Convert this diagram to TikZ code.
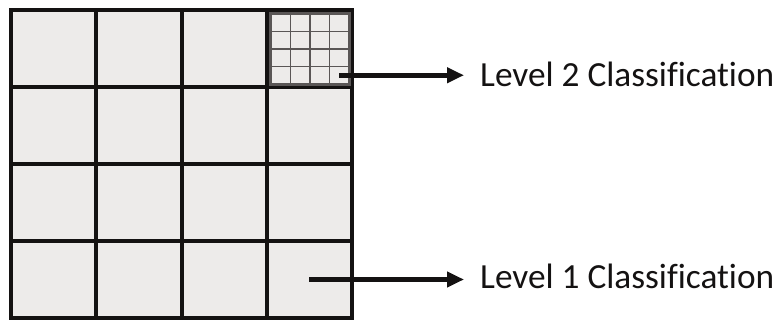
\documentclass[tikz,border=0pt]{standalone}
\usepackage{fontspec}
\setmainfont[Ligatures=NoCommon]{Carlito}
\usetikzlibrary{arrows.meta,calc}
\definecolor{cellgray}{HTML}{EDEBEA}
\definecolor{subline}{HTML}{5A5656}
\definecolor{ink}{HTML}{141212}
\tikzset{
  cell/.style={draw=ink, fill=cellgray, line width=4pt, rectangle,
    minimum width=85.25pt, minimum height=77pt, inner sep=0pt},
  subcell/.style={draw=subline, fill=cellgray, line width=1.6pt, rectangle,
    minimum width=19.5pt, minimum height=17.5pt, inner sep=0pt},
  pointer/.style={draw=ink, line width=5pt,
    -{Triangle[length=17pt,width=15pt]}},
  label/.style={font=\fontsize{35.3}{40}\selectfont, text=ink, inner sep=0pt,
    anchor=base west}
}
\begin{document}
\begin{tikzpicture}[x=1pt,y=-1pt]
  \useasboundingbox (0,0) rectangle (779,320);
  % level 1 grid: 4 x 4 cells
  \foreach \r in {0,...,3}{
    \foreach \c in {0,...,3}{
      \node[cell] (c-\r-\c) at ({11+85.25*(\c+0.5)},{10+77*(\r+0.5)}) {};
    }
  }
  % level 2 grid inside the top-right cell
  \foreach \r in {0,...,3}{
    \foreach \c in {0,...,3}{
      \node[subcell] (s-\r-\c) at ({271+19.5*(\c+0.5)},{14+17.5*(\r+0.5)}) {};
    }
  }
  \draw[subline, line width=2pt] (s-0-0.north west) rectangle (s-3-3.south east);
  % labels
  \node[label] (t2) at (480,87) {Level 2 Classification};
  \node[label] (t1) at (480,289) {Level 1 Classification};
  % pointers
  \draw[pointer] (s-3-3.center) -- ([xshift=-16pt]t2.west |- s-3-3.center);
  \draw[pointer] (c-3-3.center) -- ([xshift=-16pt]t1.west |- c-3-3.center);
\end{tikzpicture}
\end{document}
